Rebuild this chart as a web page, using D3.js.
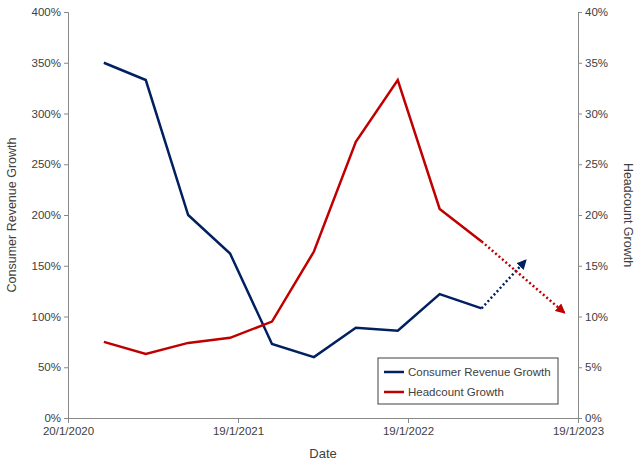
<!DOCTYPE html><html><head><meta charset="utf-8">
<script src="https://cdn.jsdelivr.net/npm/d3@7"></script>
<style>body{margin:0;background:#fff}text{font-family:"Liberation Sans",Arial,sans-serif;fill:#404040}</style></head><body>
<svg id="c" width="640" height="464"></svg>
<script>
const dates=["2020-04-06","2020-07-05","2020-10-04","2021-01-02","2021-04-02","2021-07-01","2021-09-29","2021-12-28","2022-03-28","2022-06-26"];
const revenue=[350,333,200,162,73,60,89,86,122,108];
const headcount=[7.5,6.3,7.4,7.9,9.5,16.4,27.2,33.3,20.6,17.4];
const revProjDates=["2022-06-26","2022-09-28"], revProj=[108,155];
const hcProjDates=["2022-06-26","2022-12-20"], hcProj=[17.4,10.4];
const xTicks=["2020-01-20","2021-01-19","2022-01-19","2023-01-19"];
const xTickLabels=["20/1/2020","19/1/2021","19/1/2022","19/1/2023"];
const leftTicks=[0,50,100,150,200,250,300,350,400], rightTicks=[0,5,10,15,20,25,30,35,40];
const p=d3.timeParse("%Y-%m-%d");
const svg=d3.select("#c");
const L=68,R=578,T=12,B=418;
const x=d3.scaleTime().domain([p(xTicks[0]),p(xTicks[3])]).range([L,R]);
const yl=d3.scaleLinear().domain([0,400]).range([B,T]);
const yr=d3.scaleLinear().domain([0,40]).range([B,T]);
const defs=svg.append("defs");
[["ab","#002060"],["ar","#C00000"]].forEach(([id,c])=>defs.append("marker").attr("id",id).attr("viewBox","0 0 10 10").attr("refX",8).attr("refY",5).attr("markerWidth",4).attr("markerHeight",4).attr("orient","auto").append("path").attr("d","M0,0L10,5L0,10z").attr("fill",c));
const ax=(g)=>{g.selectAll("path,line").attr("stroke","#888");g.selectAll("text").attr("font-size",11.5).attr("fill","#404040");};
svg.append("g").attr("transform",`translate(0,${B})`).call(d3.axisBottom(x).tickValues(xTicks.map(p)).tickFormat((d,i)=>xTickLabels[i]).tickSize(5).tickPadding(4)).call(ax);
svg.append("g").attr("transform",`translate(${L},0)`).call(d3.axisLeft(yl).tickValues(leftTicks).tickFormat(d=>d+"%").tickSize(4)).call(ax);
svg.append("g").attr("transform",`translate(${R},0)`).call(d3.axisRight(yr).tickValues(rightTicks).tickFormat(d=>d+"%").tickSize(4)).call(ax);
const line=(y)=>d3.line().x(d=>x(p(d[0]))).y(d=>y(d[1]));
svg.append("path").datum(dates.map((d,i)=>[d,revenue[i]])).attr("d",line(yl)).attr("fill","none").attr("stroke","#002060").attr("stroke-width",2.5);
svg.append("path").datum(dates.map((d,i)=>[d,headcount[i]])).attr("d",line(yr)).attr("fill","none").attr("stroke","#C00000").attr("stroke-width",2.5);
svg.append("path").datum(revProjDates.map((d,i)=>[d,revProj[i]])).attr("d",line(yl)).attr("fill","none").attr("stroke","#002060").attr("stroke-width",2.5).attr("stroke-dasharray","2,2.5").attr("marker-end","url(#ab)");
svg.append("path").datum(hcProjDates.map((d,i)=>[d,hcProj[i]])).attr("d",line(yr)).attr("fill","none").attr("stroke","#C00000").attr("stroke-width",2.5).attr("stroke-dasharray","2,2.5").attr("marker-end","url(#ar)");
svg.append("text").attr("x",323).attr("y",458).attr("text-anchor","middle").attr("font-size",13).text("Date");
svg.append("text").attr("transform","translate(16,215) rotate(-90)").attr("text-anchor","middle").attr("font-size",12.5).text("Consumer Revenue Growth");
svg.append("text").attr("transform","translate(624,215) rotate(90)").attr("text-anchor","middle").attr("font-size",12.5).text("Headcount Growth");
const lg=svg.append("g");
lg.append("rect").attr("x",378).attr("y",358).attr("width",180).attr("height",46).attr("fill","#fff").attr("stroke","#404040");
[["Consumer Revenue Growth","#002060"],["Headcount Growth","#C00000"]].forEach((s,i)=>{
 lg.append("line").attr("x1",384).attr("x2",404).attr("y1",372+i*20).attr("y2",372+i*20).attr("stroke",s[1]).attr("stroke-width",2.5);
 lg.append("text").attr("x",408).attr("y",376+i*20).attr("font-size",11.5).text(s[0]);});
</script></body></html>
